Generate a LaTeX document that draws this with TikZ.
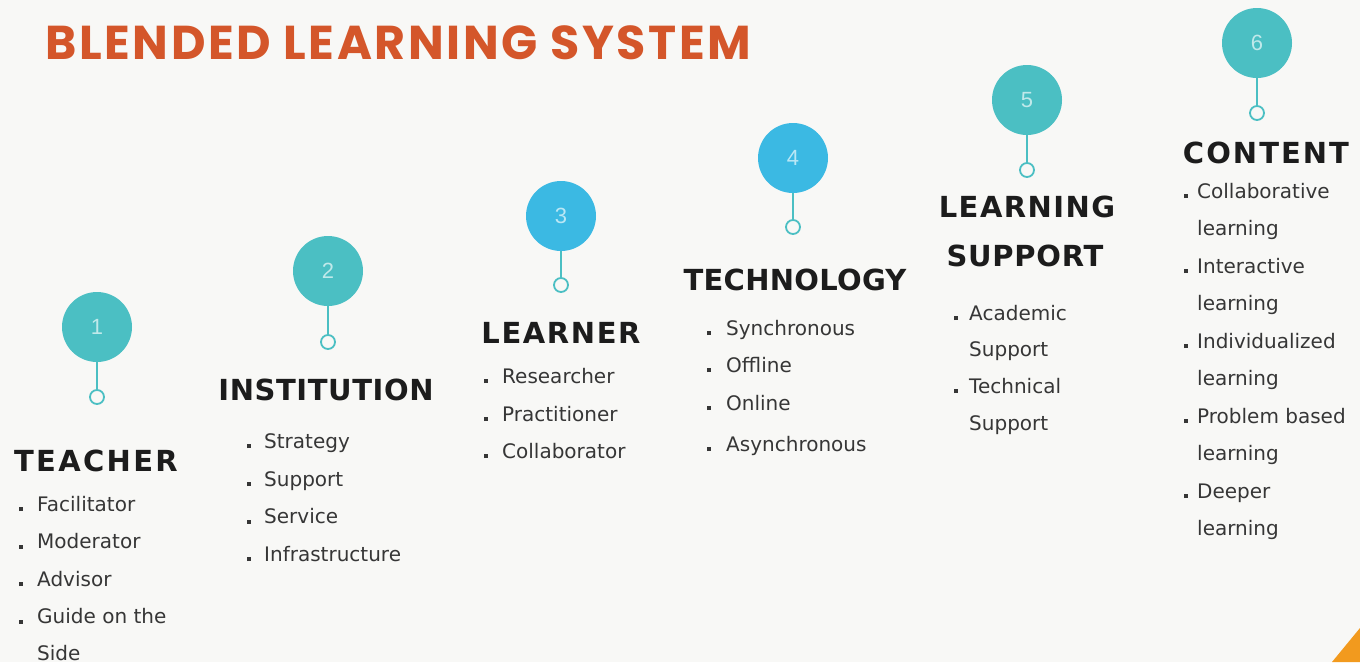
\documentclass[tikz,border=0pt]{standalone}
\usepackage{fontspec}
\setmainfont{DejaVu Sans}
\newfontfamily\titlefont{Poppins}[LetterSpace=5.5]
\newfontfamily\headfont{DejaVu Sans}
\newfontfamily\bodyfont{DejaVu Sans}
\newfontfamily\numfont{Liberation Sans}
\definecolor{paper}{HTML}{F8F8F6}
\definecolor{titleorange}{HTML}{D4562A}
\definecolor{tealc}{HTML}{4BBFC3}
\definecolor{bluec}{HTML}{3BB9E3}
\definecolor{headink}{HTML}{1C1C1C}
\definecolor{bodyink}{HTML}{363636}
\definecolor{cornerorange}{HTML}{F29A1E}
% bullet dot sitting on the baseline, hung to the left of the item text
\newcommand\itm[2][14pt]{\llap{\rule{4pt}{4pt}\hspace{#1}}#2}
% tracked heading text
\newcommand\trk[2]{\addfontfeature{LetterSpace=#1}#2}
\begin{document}
\begin{tikzpicture}[x=1pt,y=-1pt,
  bubble/.style={circle,minimum size=70pt,inner sep=0pt,fill=#1,
    text=white!65!#1,font=\numfont\fontsize{22}{22}\selectfont},
  ring/.style={circle,minimum size=14pt,inner sep=0pt,draw=#1,line width=1.8pt,fill=paper},
  stem/.style={draw=#1,line width=1.8pt},
  heading/.style={anchor=base,inner sep=0pt,text=headink,
    font=\headfont\bfseries\fontsize{29}{29}\selectfont},
  item/.style={anchor=base west,inner sep=0pt,text=bodyink,
    font=\bodyfont\fontsize{20}{20}\selectfont},
]
\useasboundingbox (0,0) rectangle (1360,662);
\fill[paper] (0,0) rectangle (1360,662);
\fill[cornerorange] (1332,662) -- (1360,628) -- (1360,662) -- cycle;

\node[anchor=base west,inner sep=0pt,text=titleorange,
  font=\titlefont\bfseries\fontsize{47.5}{47.5}\selectfont] (title) at (45,59) {BLENDED LEARNING SYSTEM};

% numbered markers with their stems
\node[bubble=tealc] (c1) at (97,327) {1};
\node[bubble=tealc] (c2) at (328,271) {2};
\node[bubble=bluec] (c3) at (561,216) {3};
\node[bubble=bluec] (c4) at (793,158) {4};
\node[bubble=tealc] (c5) at (1027,100) {5};
\node[bubble=tealc] (c6) at (1257,43) {6};
\node[ring=tealc] (r1) at (97,397) {};
\node[ring=tealc] (r2) at (328,342) {};
\node[ring=tealc] (r3) at (561,285) {};
\node[ring=tealc] (r4) at (793,227) {};
\node[ring=tealc] (r5) at (1027,170) {};
\node[ring=tealc] (r6) at (1257,113) {};
\draw[stem=tealc] (c1) -- (r1);
\draw[stem=tealc] (c2) -- (r2);
\draw[stem=tealc] (c3) -- (r3);
\draw[stem=tealc] (c4) -- (r4);
\draw[stem=tealc] (c5) -- (r5);
\draw[stem=tealc] (c6) -- (r6);

% headings
\node[heading] (h1) at (96,471) {\trk{8}{TEACHER}};
\node[heading] (h2) at (326,400) {\trk{2}{INSTITUTION}};
\node[heading] (h3) at (561,343) {\trk{5.5}{LEARNER}};
\node[heading] (h4) at (795,290) {\trk{1}{TECHNOLOGY}};
\node[heading] (h5a) at (1027,217) {\trk{5}{LEARNING}};
\node[heading] (h5b) at (1025,266) {\trk{2.5}{SUPPORT}};
\node[heading] (h6) at (1266,163) {\trk{7}{CONTENT}};

% teacher
\node[item] (t1) at (37,511) {\itm[14pt]{Facilitator}};
\node[item] (t2) at (37,548.5) {\itm[14pt]{Moderator}};
\node[item] (t3) at (37,586) {\itm[14pt]{Advisor}};
\node[item] (t4) at (37,623.5) {\itm[14pt]{Guide on the}};
\node[item] (t5) at (37,660) {Side};
% institution
\node[item] (i1) at (264,448) {\itm[13pt]{Strategy}};
\node[item] (i2) at (264,486) {\itm[13pt]{Support}};
\node[item] (i3) at (264,523.5) {\itm[13pt]{Service}};
\node[item] (i4) at (264,561) {\itm[13pt]{Infrastructure}};
% learner
\node[item] (l1) at (502,383) {\itm[14pt]{Researcher}};
\node[item] (l2) at (502,421) {\itm[14pt]{Practitioner}};
\node[item] (l3) at (502,458) {\itm[14pt]{Collaborator}};
% technology
\node[item] (k1) at (726,335) {\itm[15pt]{Synchronous}};
\node[item] (k2) at (726,372) {\itm[15pt]{Offline}};
\node[item] (k3) at (726,410) {\itm[15pt]{Online}};
\node[item] (k4) at (726,451) {\itm[15pt]{Asynchronous}};
% learning support
\node[item] (s1) at (969,320) {\itm[11pt]{Academic}};
\node[item] (s2) at (969,356) {Support};
\node[item] (s3) at (969,393) {\itm[11pt]{Technical}};
\node[item] (s4) at (969,430) {Support};
% content
\node[item] (n1) at (1197,198) {\itm[9pt]{Collaborative}};
\node[item] (n2) at (1197,235) {learning};
\node[item] (n3) at (1197,273) {\itm[9pt]{Interactive}};
\node[item] (n4) at (1197,310) {learning};
\node[item] (n5) at (1197,348) {\itm[9pt]{Individualized}};
\node[item] (n6) at (1197,385) {learning};
\node[item] (n7) at (1197,423) {\itm[9pt]{Problem based}};
\node[item] (n8) at (1197,460) {learning};
\node[item] (n9) at (1197,498) {\itm[9pt]{Deeper}};
\node[item] (n10) at (1197,535) {learning};
\end{tikzpicture}
\end{document}
